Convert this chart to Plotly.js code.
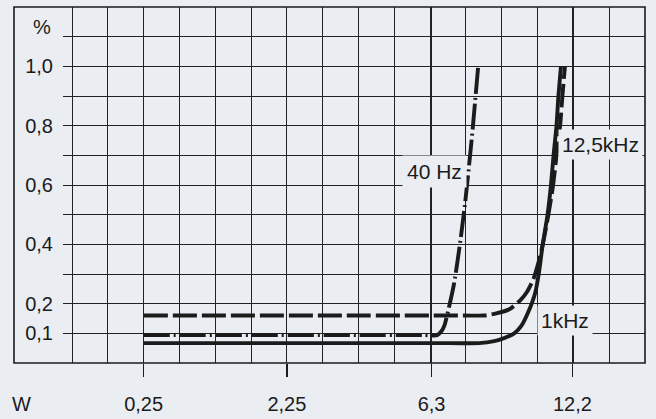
<!DOCTYPE html>
<html>
<head>
<meta charset="utf-8">
<script src="https://cdn.plot.ly/plotly-3.0.1.min.js"></script>
<style>
html,body{margin:0;padding:0;background:#eaedf1;}
#chart{width:656px;height:419px;}
</style>
</head>
<body>
<div id="chart"></div>
<script>
// x axis tick labels (output power, W) – the scale is proportional to sqrt(W)
const xTickPower = [0.25, 2.25, 6.3, 12.2];
const xTickText = ['0,25', '2,25', '6,3', '12,2'];
// y axis ticks (distortion, %)
const yTickVals = [0.1, 0.2, 0.4, 0.6, 0.8, 1.0];
const yTickText = ['0,1', '0,2', '0,4', '0,6', '0,8', '1,0'];

// 40 Hz (dash-dot)
const power40Hz = [0.25, 6.0, 6.50, 6.65, 6.76, 6.94, 7.12, 7.35, 7.54, 7.77, 7.85, 8.04];
const thd40Hz   = [0.094, 0.094, 0.094, 0.107, 0.127, 0.194, 0.271, 0.412, 0.547, 0.741, 0.815, 1.0];
// 1 kHz (solid)
const power1kHz = [0.25, 7.0, 8.08, 8.69, 9.10, 9.53, 9.83, 10.14, 10.46, 10.64, 10.79, 11.02, 11.18, 11.30, 11.44, 11.53, 11.65];
const thd1kHz   = [0.067, 0.067, 0.067, 0.074, 0.084, 0.100, 0.124, 0.171, 0.238, 0.312, 0.396, 0.5, 0.6, 0.7, 0.8, 0.9, 1.0];
// 12,5 kHz (dashed)
const power12k5Hz = [0.25, 7.5, 8.28, 8.77, 9.32, 9.79, 10.10, 10.37, 10.59, 10.79, 11.06, 11.28, 11.44, 11.61, 11.72, 11.84];
const thd12k5Hz   = [0.16, 0.16, 0.16, 0.167, 0.181, 0.211, 0.241, 0.282, 0.335, 0.396, 0.5, 0.6, 0.7, 0.8, 0.9, 1.0];

const sq = a => a.map(Math.sqrt);
const ink = '#1b1b1b';
const bg = '#eaedf1';
const font = 'Liberation Sans, Arial, Helvetica, sans-serif';

const lineBase = {type: 'scatter', mode: 'lines', hoverinfo: 'skip', showlegend: false};
const traces = [
  Object.assign({}, lineBase, {x: sq(power12k5Hz), y: thd12k5Hz,
    line: {color: ink, width: 3.9, dash: '24px,5px', shape: 'spline', smoothing: 0.6}}),
  Object.assign({}, lineBase, {x: sq(power40Hz), y: thd40Hz,
    line: {color: ink, width: 3.9, dash: '26px,4px,2px,4px', shape: 'spline', smoothing: 0.6}}),
  Object.assign({}, lineBase, {x: sq(power1kHz), y: thd1kHz,
    line: {color: ink, width: 3.9, dash: 'solid', shape: 'spline', smoothing: 0.6}})
];

const gridC = '#222222';
const layout = {
  width: 656, height: 419,
  margin: {l: 63, r: 11, t: 7, b: 56, pad: 0},
  paper_bgcolor: bg, plot_bgcolor: bg,
  font: {family: font, size: 20, color: ink},
  xaxis: {
    range: [-0.063, 4.0],
    tickmode: 'array', tickvals: sq(xTickPower), ticktext: xTickText,
    ticks: 'outside', ticklen: 13, tickwidth: 1.3, tickcolor: ink,
    ticklabelstandoff: 10,
    showgrid: true, gridcolor: gridC, gridwidth: 1,
    minor: {dtick: 0.25, tick0: 0, showgrid: true, gridcolor: gridC, gridwidth: 1, ticks: ''},
    zeroline: false, showline: false,
    tickfont: {family: font, size: 20, color: ink}
  },
  yaxis: {
    range: [0, 1.2],
    tickmode: 'array', tickvals: yTickVals, ticktext: yTickText,
    ticks: '', ticklabelstandoff: 9,
    showgrid: true, gridcolor: gridC, gridwidth: 1,
    minor: {dtick: 0.1, tick0: 0, showgrid: true, gridcolor: gridC, gridwidth: 1, ticks: ''},
    zeroline: false, showline: false,
    tickfont: {family: font, size: 20, color: ink}
  },
  shapes: [
    {type: 'rect', xref: 'paper', yref: 'paper', x0: -0.0842, x1: 1, y0: 0, y1: 1,
     line: {color: ink, width: 1.6}, layer: 'above'}
  ],
  annotations: [
    {text: '%', xref: 'paper', yref: 'paper', x: -0.017, y: 0.944, xanchor: 'right', yanchor: 'middle',
     showarrow: false, font: {family: font, size: 20, color: ink}},
    {text: 'W', xref: 'paper', yref: 'paper', x: -0.072, y: -0.115, xanchor: 'center', yanchor: 'middle',
     showarrow: false, font: {family: font, size: 20, color: ink}},
    {text: '40 Hz', xref: 'x', yref: 'y', x: 2.53, y: 0.647, xanchor: 'center', yanchor: 'middle',
     showarrow: false, bgcolor: bg, borderpad: 4, font: {family: font, size: 21, color: ink}},
    {text: '12,5kHz', xref: 'x', yref: 'y', x: 3.69, y: 0.736, xanchor: 'center', yanchor: 'middle',
     showarrow: false, bgcolor: bg, borderpad: 3, font: {family: font, size: 21, color: ink}},
    {text: '1kHz', xref: 'x', yref: 'y', x: 3.443, y: 0.143, xanchor: 'center', yanchor: 'middle',
     showarrow: false, bgcolor: bg, borderpad: 3, font: {family: font, size: 21, color: ink}}
  ]
};

Plotly.newPlot('chart', traces, layout, {staticPlot: true, displayModeBar: false});
</script>
</body>
</html>
